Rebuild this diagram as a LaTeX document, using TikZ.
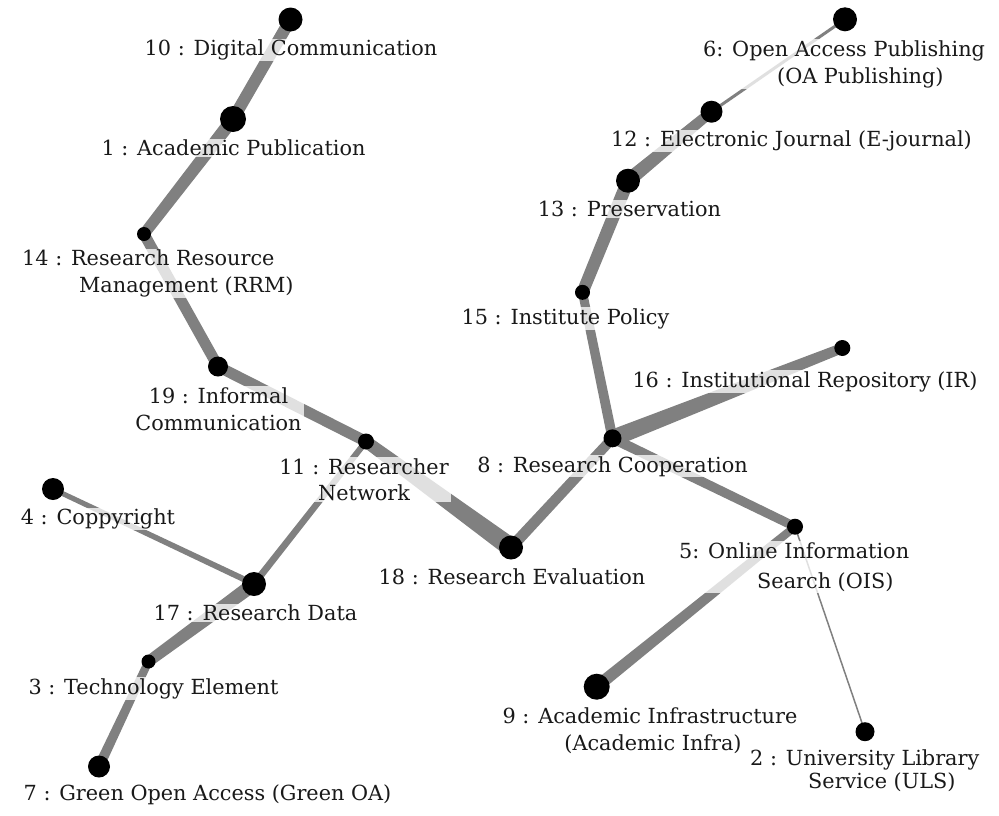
\documentclass[tikz,border=0pt]{standalone}
\usepackage{fontspec}
\setmainfont{DejaVu Serif}
\usetikzlibrary{calc}
\pgfdeclarelayer{bglayer}
\pgfdeclarelayer{edgelayer}
\pgfdeclarelayer{labellayer}
\pgfsetlayers{bglayer,edgelayer,labellayer,main}
\newcommand\lblfont{\fontsize{20.8}{27}\selectfont}
\newcommand\taper[4]{%
  \fill[edgefill] let \p1=(#1.center), \p2=(#2.center), \n1={atan2(\y2-\y1,\x2-\x1)} in
   ($(\p1)+(\n1+90:{0.5*#3pt})$) -- ($(\p2)+(\n1+90:{0.5*#4pt})$) --
   ($(\p2)+(\n1-90:{0.5*#4pt})$) -- ($(\p1)+(\n1-90:{0.5*#3pt})$) -- cycle;}
\tikzset{
  dot/.style={circle, fill=black, inner sep=0pt, minimum size=#1},
  edgefill/.style={fill=black!50},
  lbl/.style={fill=white, fill opacity=0.76, text opacity=1, text=black!90,
    inner xsep=2pt, inner ysep=1pt, font=\lblfont},
}
\begin{document}
\begin{tikzpicture}[x=1pt,y=-1pt]
\begin{pgfonlayer}{bglayer}
\fill[white] (0,0) rectangle (999,815);
\end{pgfonlayer}
\useasboundingbox (0,0) rectangle (999,815);
% dots (main layer, on top)
\node[dot=24pt] (n10) at (290.5,19.5) {};
\node[dot=26pt] (n1)  at (233,119) {};
\node[dot=14pt] (n14) at (144,234) {};
\node[dot=20pt] (n19) at (218,366.5) {};
\node[dot=16pt] (n11) at (366,441.5) {};
\node[dot=22pt] (n4)  at (53,489) {};
\node[dot=24pt] (n17) at (254,584) {};
\node[dot=14pt] (n3)  at (148.5,661.5) {};
\node[dot=22pt] (n7)  at (99,766.5) {};
\node[dot=24pt] (n18) at (511,547.5) {};
\node[dot=18pt] (n8)  at (612.5,438.3) {};
\node[dot=15pt] (n15) at (582.5,292.3) {};
\node[dot=24pt] (n13) at (628,180.7) {};
\node[dot=22pt] (n12) at (711.5,111.7) {};
\node[dot=24pt] (n6)  at (845,19.3) {};
\node[dot=16pt] (n16) at (842.3,348) {};
\node[dot=16pt] (n5)  at (795,526.7) {};
\node[dot=26pt] (n9)  at (596.7,686.7) {};
\node[dot=19pt] (n2)  at (865,731.7) {};
% edges
\begin{pgfonlayer}{edgelayer}
\taper{n10}{n1}{12}{12}
\taper{n1}{n14}{13}{11}
\taper{n14}{n19}{11}{11}
\taper{n19}{n11}{11}{11}
\taper{n11}{n18}{12}{19}
\taper{n18}{n8}{11}{10}
\taper{n8}{n15}{10}{9}
\taper{n15}{n13}{12}{13}
\taper{n13}{n12}{14}{10}
\taper{n12}{n6}{3}{3}
\taper{n8}{n16}{17}{10}
\taper{n8}{n5}{10}{9}
\taper{n5}{n9}{8}{12}
\taper{n5}{n2}{1.5}{1.5}
\taper{n11}{n17}{6}{7}
\taper{n4}{n17}{5}{6}
\taper{n17}{n3}{14}{11}
\taper{n3}{n7}{8}{10}
\end{pgfonlayer}
% labels
\begin{pgfonlayer}{labellayer}
\node[lbl, anchor=base] (l10) at (291,55.5) {10 : Digital Communication};
\node[lbl, anchor=base] (l1) at (233.5,155.5) {1 : Academic Publication};
\node[lbl, anchor=west, align=left] (l14) at (20,273.5) {14 : Research Resource\\\hspace*{57pt}Management (RRM)};
\node[lbl, align=center] (l19) at (218.5,409) {19 : Informal\\Communication};
\node[lbl, align=center] (l11) at (364,479.5) {11 : Researcher\\[-1pt]Network};
\node[lbl, anchor=base] (l4) at (98,524.5) {4 : Coppyright};
\node[lbl, anchor=base] (l18) at (512,584) {18 : Research Evaluation};
\node[lbl, anchor=base] (l17) at (255.5,620.5) {17 : Research Data};
\node[lbl, anchor=base] (l3) at (153.5,694) {3 : Technology Element};
\node[lbl, anchor=base] (l7) at (207.5,800) {7 : Green Open Access (Green OA)};
\node[lbl, anchor=west, align=left] (l6) at (701,64) {6: Open Access Publishing\\\hspace*{74pt}(OA Publishing)};
\node[lbl, anchor=base] (l12) at (791.5,146.5) {12 : Electronic Journal (E-journal)};
\node[lbl, anchor=base] (l13) at (629.5,216.5) {13 : Preservation};
\node[lbl, anchor=base] (l15) at (565.5,324) {15 : Institute Policy};
\node[lbl, anchor=base] (l16) at (805,387) {16 : Institutional Repository (IR)};
\node[lbl, anchor=base] (l8) at (612.5,472) {8 : Research Cooperation};
\node[lbl, anchor=west, align=left] (l5) at (677,567) {5: Online Information\\[3pt]\hspace*{78pt}Search (OIS)};
\node[lbl, align=center] (l9) at (650,731) {9 : Academic Infrastructure\\\hspace*{6pt}(Academic Infra)};
\node[lbl, anchor=west, align=left] (l2) at (748,770.5) {2 : University Library\\[-4pt]\hspace*{58pt}Service (ULS)};
\end{pgfonlayer}
\end{tikzpicture}
\end{document}
